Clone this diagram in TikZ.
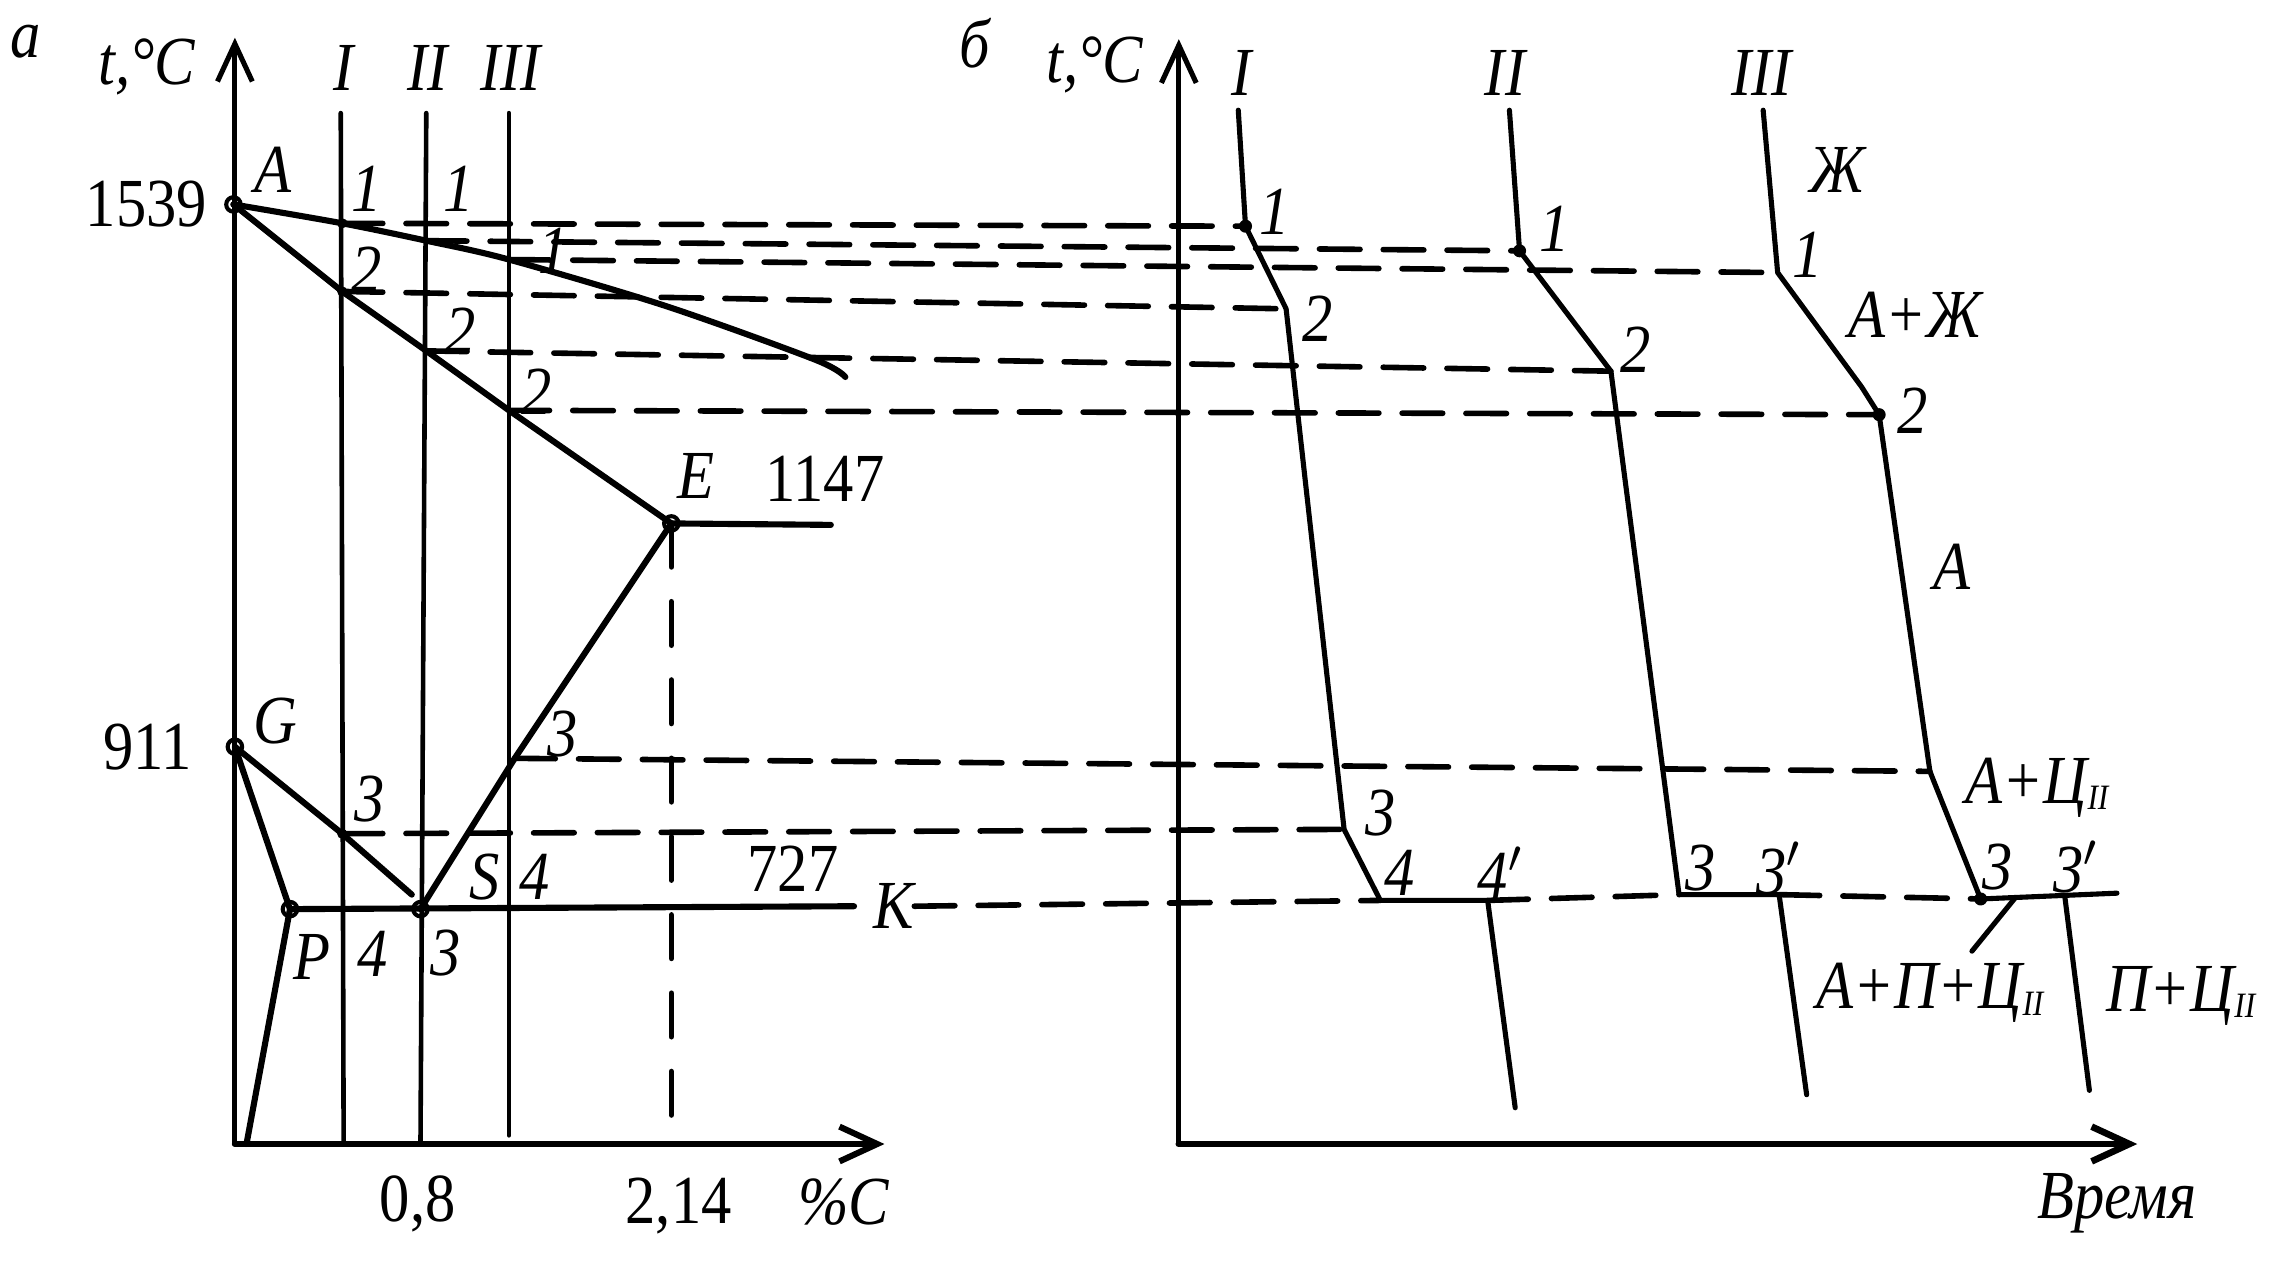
\documentclass[tikz,border=0pt]{standalone}
\usepackage{fontspec}
\setmainfont{Liberation Serif}[FakeStretch=0.88]
\usetikzlibrary{arrows.meta}
\newcommand{\cII}{Ц\raisebox{-0.2ex}{\scriptsize II}}
\tikzset{
  lab/.style={font=\fontsize{13.5}{15}\selectfont\itshape,inner sep=0pt},
  num/.style={font=\fontsize{13.5}{15}\selectfont,inner sep=0pt},
  phase/.style={line width=1.2pt},
  ordin/.style={line width=0.9pt},
  curve/.style={line width=1.0pt},
  axis/.style={line width=1.0pt,->},
  guide/.style={line width=1.1pt,dash pattern=on 2.8mm off 1.6mm},
}
\begin{document}
\begin{tikzpicture}[>={Straight Barb[length=2.6mm,width=2.4mm]},line join=bevel,line cap=round]
\useasboundingbox (0,0) rectangle (15.69,8.80);
%% diagram (a)
  \coordinate (O_a) at (1.62,0.91);
  \coordinate (Y_a) at (1.62,8.54);
  \coordinate (X_a) at (6.10,0.91);
  \coordinate (pt_A) at (1.61,7.39);
  \coordinate (pt_E) at (4.63,5.19);
  \coordinate (E_end) at (5.73,5.18);
  \coordinate (pt_G) at (1.62,3.65);
  \coordinate (G_end) at (2.84,2.63);
  \coordinate (pt_P) at (2.00,2.53);
  \coordinate (P_bot) at (1.70,0.91);
  \coordinate (pt_S) at (2.90,2.53);
  \coordinate (K_end) at (5.89,2.55);
  \coordinate (I_top) at (2.35,8.02);
  \coordinate (I_bot) at (2.37,0.91);
  \coordinate (II_top) at (2.94,8.02);
  \coordinate (II_bot) at (2.90,0.91);
  \coordinate (III_top) at (3.51,8.02);
  \coordinate (III_bot) at (3.51,0.97);
  \coordinate (I_1) at (2.36,7.26);
  \coordinate (II_1) at (2.94,7.14);
  \coordinate (III_1) at (3.51,7.01);
  \coordinate (I_2) at (2.36,6.79);
  \coordinate (II_2) at (2.94,6.38);
  \coordinate (III_2) at (3.51,5.97);
  \coordinate (I_3) at (2.36,3.05);
  \coordinate (III_3) at (3.55,3.57);

  \draw [axis] (O_a) -- (Y_a);
  \draw [axis,line width=1.2pt] (O_a) -- (X_a);
  \draw [ordin] (I_top) -- (I_bot);
  \draw [ordin] (II_top) -- (II_bot);
  \draw [ordin] (III_top) -- (III_bot);
  \draw [phase] plot [smooth] coordinates {(pt_A) (I_1) (II_1) (III_1) (4.59,6.69) (5.62,6.32) (5.83,6.20)};
  \draw [phase] (pt_A) -- (I_2) -- (II_2) -- (III_2) -- (pt_E);
  \draw [phase] (pt_E) -- (E_end);
  \draw [phase] (pt_S) -- (III_3) -- (pt_E);
  \draw [phase] (pt_G) -- (I_3) -- (G_end);
  \draw [phase] (pt_G) -- (pt_P) -- (P_bot);
  \draw [phase] (pt_P) -- (K_end);
  \draw [guide,dash pattern=on 3mm off 2.4mm] (pt_E) -- (pt_E |- O_a);
  \foreach \p in {pt_A,pt_E,pt_G,pt_P,pt_S}
    \draw [line width=0.8pt] (\p) circle (0.05);
  \foreach \p in {I_1,I_2,I_3}
    \fill (\p) circle (0.035);

  \node (lab_a) at (0.18,8.51) [lab] {а};
  \node (lab_ta) at (1.01,8.34) [lab] {t,°C};
  \node (lab_I) at (2.37,8.33) [lab] {I};
  \node (lab_II) at (2.95,8.33) [lab] {II};
  \node (lab_III) at (3.52,8.33) [lab] {III};
  \node (lab_A) at (1.88,7.63) [lab] {A};
  \node (lab_1539) at (1.01,7.39) [num] {1539};
  \node (lab_I1) at (2.53,7.50) [lab] {1};
  \node (lab_II1) at (3.16,7.50) [lab] {1};
  \node (lab_III1) at (3.82,7.07) [lab] {1};
  \node (lab_I2) at (2.53,6.94) [lab] {2};
  \node (lab_II2) at (3.18,6.52) [lab] {2};
  \node (lab_III2) at (3.70,6.10) [lab] {2};
  \node (lab_E) at (4.80,5.52) [lab] {E};
  \node (lab_1147) at (5.69,5.50) [num] {1147};
  \node (lab_G) at (1.90,3.83) [lab] {G};
  \node (lab_911) at (1.02,3.65) [num] {911};
  \node (lab_I3) at (2.55,3.29) [lab] {3};
  \node (lab_III3) at (3.88,3.74) [lab] {3};
  \node (lab_S) at (3.34,2.75) [lab] {S};
  \node (lab_III4) at (3.69,2.75) [lab] {4};
  \node (lab_727) at (5.47,2.81) [num] {727};
  \node (lab_P) at (2.15,2.20) [lab] {P};
  \node (lab_I4) at (2.57,2.22) [lab] {4};
  \node (lab_II3) at (3.07,2.23) [lab] {3};
  \node (lab_K) at (6.16,2.55) [lab] {К};
  \node (lab_08) at (2.88,0.50) [num] {0,8};
  \node (lab_214) at (4.68,0.48) [num] {2,14};
  \node (lab_pC) at (5.82,0.51) [lab] {\%C};
%% cooling curves (б)
  \coordinate (O_b) at (8.13,0.91);
  \coordinate (Y_b) at (8.13,8.53);
  \coordinate (X_b) at (14.74,0.91);
  \coordinate (C1s) at (8.54,8.04);
  \coordinate (C1a) at (8.59,7.24);
  \coordinate (C1b) at (8.87,6.67);
  \coordinate (C1c) at (9.27,3.08);
  \coordinate (C1d) at (9.52,2.59);
  \coordinate (C1e) at (10.26,2.59);
  \coordinate (C1f) at (10.45,1.16);
  \coordinate (C2s) at (10.41,8.04);
  \coordinate (C2a) at (10.48,7.07);
  \coordinate (C2b) at (11.11,6.24);
  \coordinate (C2c) at (11.58,2.63);
  \coordinate (C2d) at (12.27,2.63);
  \coordinate (C2e) at (12.46,1.25);
  \coordinate (C3s) at (12.16,8.04);
  \coordinate (C3a) at (12.26,6.92);
  \coordinate (C3k) at (12.84,6.13);
  \coordinate (C3b) at (12.96,5.94);
  \coordinate (C3c) at (13.31,3.48);
  \coordinate (C3d) at (13.66,2.60);
  \coordinate (C3f) at (14.24,2.62);
  \coordinate (C3e) at (14.60,2.64);
  \coordinate (C3g) at (14.41,1.28);
  \coordinate (lead_a) at (13.90,2.61);
  \coordinate (lead_b) at (13.60,2.24);

  \draw [axis] (O_b) -- (Y_b);
  \draw [axis,line width=1.3pt] (O_b) -- (X_b);
  \draw [curve] (C1s) -- (C1a) -- (C1b) -- (C1c) -- (C1d) -- (C1e) -- (C1f);
  \draw [curve] (C2s) -- (C2a) -- (C2b) -- (C2c) -- (C2d) -- (C2e);
  \draw [curve] (C3s) -- (C3a) -- (C3k) -- (C3b) -- (C3c) -- (C3d) -- (C3e);
  \draw [curve] (C3f) -- (C3g);
  \draw [curve] (lead_a) -- (lead_b);
  \foreach \p in {C1a,C2a,C3b,C3d}
    \fill (\p) circle (0.045);

  \node (lab_b) at (6.72,8.50) [lab] {б};
  \node (lab_tb) at (7.55,8.35) [lab] {t,°C};
  \node (lab_cI) at (8.56,8.30) [lab] {I};
  \node (lab_cII) at (10.38,8.30) [lab] {II};
  \node (lab_cIII) at (12.15,8.30) [lab] {III};
  \node (lab_c11) at (8.79,7.34) [lab] {1};
  \node (lab_c12) at (9.09,6.60) [lab] {2};
  \node (lab_c21) at (10.72,7.22) [lab] {1};
  \node (lab_c22) at (11.28,6.39) [lab] {2};
  \node (lab_Zh) at (12.67,7.63) [lab] {Ж};
  \node (lab_c31) at (12.47,7.04) [lab] {1};
  \node (lab_AZh) at (13.21,6.63) [lab] {А+Ж};
  \node (lab_c32) at (13.19,5.97) [lab] {2};
  \node (lab_Aus) at (13.46,4.89) [lab] {А};
  \node (lab_c13) at (9.52,3.19) [lab] {3};
  \node (lab_c14) at (9.65,2.78) [lab] {4};
  \node (lab_c14p) at (10.35,2.78) [lab] {4$'$};
  \node (lab_c23) at (11.73,2.81) [lab] {3};
  \node (lab_c23p) at (12.27,2.81) [lab] {3$'$};
  \node (lab_ACII) at (14.05,3.37) [lab] {А+\cII};
  \node (lab_c33) at (13.78,2.82) [lab] {3};
  \node (lab_c33p) at (14.32,2.82) [lab] {3$'$};
  \node (lab_APC) at (13.31,1.95) [lab] {А+П+\cII};
  \node (lab_PC) at (15.04,1.93) [lab] {П+\cII};
  \node (lab_time) at (14.60,0.50) [lab] {Время};
%% projection lines
  \draw [guide] (I_1) -- (C1a);
  \draw [guide] (II_1) -- (C2a);
  \draw [guide] (III_1) -- (C3a);
  \draw [guide] (I_2) -- (C1b);
  \draw [guide] (II_2) -- (C2b);
  \draw [guide] (III_2) -- (C3b);
  \draw [guide] (III_3) -- (C3c);
  \draw [guide] (I_3) -- (C1c);
  \draw [guide] (lab_K.east) -- (C1d);
  \draw [guide] (C1e) -- (C2c);
  \draw [guide] (C2d) -- (C3d);
%
\end{tikzpicture}
\end{document}
